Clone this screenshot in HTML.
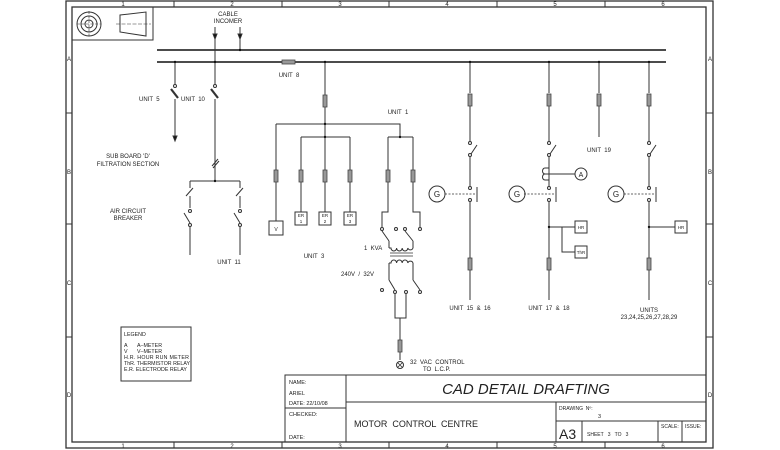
<!DOCTYPE html>
<html><head><meta charset="utf-8"><style>
html,body{margin:0;padding:0;background:#fff}
svg{display:block}
text{font-family:"Liberation Sans",sans-serif;fill:#222;white-space:pre}
</style></head><body>
<svg width="780" height="450" viewBox="0 0 780 450" xmlns="http://www.w3.org/2000/svg">
<defs>
<g id="fz"><rect x="-2" y="0" width="4" height="12" fill="#999" stroke="#444" stroke-width="0.8"/></g>
</defs>
<g fill="none" stroke="#333" stroke-width="1">
<rect x="66" y="1" width="647" height="447" stroke-width="1.3"/>
<rect x="72" y="7" width="634" height="435" stroke-width="1.3"/>
<path d="M174 1V7M282 1V7M389 1V7M497 1V7M605 1V7M174 442V448M282 442V448M389 442V448M497 442V448M605 442V448M66 113H72M66 224H72M66 337H72M706 113H713M706 224H713M706 337H713"/>
<rect x="72" y="7" width="81" height="33"/>
<circle cx="89" cy="24" r="12"/><circle cx="89" cy="24" r="8"/><circle cx="89" cy="24" r="4"/>
<path d="M77 24H101M89 11V37" stroke-dasharray="3 1.5" stroke-width="0.6"/>
<path d="M120 15L146 12V36L120 32Z"/>
<path d="M116 24H151" stroke-dasharray="4 1.5" stroke-width="0.6"/>
<path d="M157 50H666M157 62H666" stroke-width="1.6" stroke="#111"/>
<path d="M215 27V62M240 27V50"/>
<path d="M213 34L215 39L217 34ZM238 34L240 39L242 34Z" fill="#111"/>
<path d="M175 62V84M175 99V138"/>
<circle cx="175" cy="86" r="1.5"/>
<path d="M171 89L178 98" stroke-width="2.2"/>
<path d="M173 136L175 141L177 136Z" fill="#111"/>
<path d="M215 62V84M215 99V181"/>
<circle cx="215" cy="86" r="1.5"/>
<path d="M211 89L218 98" stroke-width="2.2"/>
<path d="M212 166L218 159M213 168L219 161" stroke-width="1"/>
<path d="M190 181H240M190 181V188M240 181V188M186 196L193 188M236 196L243 188M190 196V208M240 196V208"/>
<circle cx="190" cy="211" r="1.5"/><circle cx="240" cy="211" r="1.5"/>
<circle cx="190" cy="225" r="1.5"/><circle cx="240" cy="225" r="1.5"/>
<path d="M184 213L190 223M234 213L240 223M190 227V255M240 227V255"/>
<rect x="282" y="60" width="13" height="4" fill="#999" stroke="#444" stroke-width="0.8"/>
<path d="M325 62V95M325 107V137M276 124H400V137M301 137H350M388 137H413"/>
<path d="M276 124V170M276 182V221M301 137V170M301 182V212M325 137V170M325 182V212M350 137V170M350 182V212M388 137V170M388 182V212H382V227M413 137V170M413 182V212H420V227"/>
<rect x="269" y="221" width="14" height="14"/>
<rect x="295" y="212" width="12" height="13"/><rect x="319" y="212" width="12" height="13"/><rect x="344" y="212" width="12" height="13"/>
<circle cx="382" cy="229" r="1.5"/><circle cx="396" cy="229" r="1.5"/><circle cx="405" cy="229" r="1.5"/><circle cx="420" cy="229" r="1.5"/>
<path d="M382 231L389 241M405 231L413 241M389 241V248M413 241V248"/>
<path d="M389 248H391A2.8 3 0 0 0 396.6 248A2.8 3 0 0 0 402.2 248A2.8 3 0 0 0 407.8 248A2.8 3 0 0 0 413 248"/>
<path d="M390 253H413M390 256H413" stroke-width="0.8"/>
<path d="M389 263H391A2.8 3 0 0 1 396.6 263A2.8 3 0 0 1 402.2 263A2.8 3 0 0 1 407.8 263A2.8 3 0 0 1 413 263M389 263V280M413 263V280"/>
<path d="M389 280L395 290M413 280L420 290"/>
<circle cx="382" cy="290" r="1.5"/><circle cx="395" cy="292" r="1.5"/><circle cx="406" cy="292" r="1.5"/><circle cx="420" cy="292" r="1.5"/>
<path d="M395 294V318H406V294M400 318V340M400 352V360"/>
<circle cx="400" cy="365" r="3.5"/><path d="M397.5 362.5L402.5 367.5M402.5 362.5L397.5 367.5" stroke-width="0.8"/>
<path d="M470 62V93M470 106V141M470 157V186M470 202V258M470 270V300"/>
<path d="M549 62V93M549 106V141M549 157V186M549 202V258M549 270V300"/>
<path d="M599 62V93M599 106V137"/>
<path d="M649 62V93M649 106V141M649 157V186M649 202V258M649 270V300"/>
<circle cx="470" cy="143" r="1.5"/><circle cx="470" cy="155" r="1.5"/><path d="M471 154L477 145"/>
<circle cx="549" cy="143" r="1.5"/><circle cx="549" cy="155" r="1.5"/><path d="M550 154L556 145"/>
<circle cx="649" cy="143" r="1.5"/><circle cx="649" cy="155" r="1.5"/><path d="M650 154L656 145"/>
<circle cx="470" cy="188" r="1.5"/><circle cx="470" cy="200" r="1.5"/>
<circle cx="549" cy="188" r="1.5"/><circle cx="549" cy="200" r="1.5"/>
<circle cx="649" cy="188" r="1.5"/><circle cx="649" cy="200" r="1.5"/>
<path d="M477 187V202M556 187V202M656 187V202"/>
<path d="M445 194H477M524 194H556M624 194H656" stroke-dasharray="2 1.5" stroke-width="0.7"/>
<circle cx="437" cy="194" r="8"/><circle cx="517" cy="194" r="8"/><circle cx="616" cy="194" r="8"/>
<path d="M549 168H545A2.5 3 0 0 0 545 174H549M545 174A2.5 3 0 0 0 545 180H549M549 174H575"/>
<circle cx="581" cy="174" r="6"/>
<path d="M549 227H575M562 227V252H575M649 227H675"/>
<rect x="575" y="221" width="12" height="12"/><rect x="575" y="246" width="12" height="12"/><rect x="675" y="221" width="12" height="12"/>
<rect x="121" y="327" width="70" height="54"/>
<rect x="285" y="375" width="421" height="67"/>
<path d="M346 375V442M285 408H346M346 402H706M556 402V442M556 421H706M582 421V442M658 421V442M682 421V442"/>
</g>
<g fill="#111" stroke="none">
<circle cx="215" cy="62" r="1.2"/><circle cx="240" cy="50" r="1.2"/><circle cx="175" cy="62" r="1.2"/>
<circle cx="325" cy="62" r="1.2"/><circle cx="325" cy="124" r="1.2"/><circle cx="325" cy="137" r="1.2"/><circle cx="400" cy="137" r="1.2"/>
<circle cx="470" cy="62" r="1.2"/><circle cx="549" cy="62" r="1.2"/><circle cx="599" cy="62" r="1.2"/><circle cx="649" cy="62" r="1.2"/>
<circle cx="549" cy="227" r="1.2"/><circle cx="649" cy="227" r="1.2"/><circle cx="215" cy="181" r="1.2"/>
</g>
<use href="#fz" x="325" y="95"/>
<use href="#fz" x="276" y="170"/><use href="#fz" x="301" y="170"/><use href="#fz" x="325" y="170"/><use href="#fz" x="350" y="170"/>
<use href="#fz" x="388" y="170"/><use href="#fz" x="413" y="170"/><use href="#fz" x="400" y="340"/>
<use href="#fz" x="470" y="94"/><use href="#fz" x="549" y="94"/><use href="#fz" x="599" y="94"/><use href="#fz" x="649" y="94"/>
<use href="#fz" x="470" y="258"/><use href="#fz" x="549" y="258"/><use href="#fz" x="649" y="258"/>
<g font-size="6" text-anchor="middle">
<text x="123" y="6">1</text><text x="232" y="6">2</text><text x="340" y="6">3</text><text x="447" y="6">4</text><text x="555" y="6">5</text><text x="663" y="6">6</text>
<text x="123" y="448">1</text><text x="232" y="448">2</text><text x="340" y="448">3</text><text x="447" y="448">4</text><text x="555" y="448">5</text><text x="663" y="448">6</text>
<text x="69" y="61">A</text><text x="69" y="174">B</text><text x="69" y="285">C</text><text x="69" y="397">D</text>
<text x="710" y="61">A</text><text x="710" y="174">B</text><text x="710" y="285">C</text><text x="710" y="397">D</text>
<text x="228" y="16">CABLE</text><text x="228" y="23">INCOMER</text>
<text x="289" y="77">UNIT  8</text>
<text x="128" y="158">SUB BOARD 'D'</text><text x="128" y="166">FILTRATION SECTION</text>
<text x="128" y="213">AIR CIRCUIT</text><text x="128" y="220">BREAKER</text>
<text x="229" y="264">UNIT  11</text>
<text x="398" y="114">UNIT  1</text>
<text x="314" y="258">UNIT  3</text>
<text x="470" y="310">UNIT  15  &amp;  16</text><text x="549" y="310">UNIT  17  &amp;  18</text>
<text x="649" y="312">UNITS</text><text x="649" y="319">23,24,25,26,27,28,29</text>
<text x="599" y="152">UNIT  19</text>
<text x="437" y="197" font-size="8">G</text><text x="517" y="197" font-size="8">G</text><text x="616" y="197" font-size="8">G</text>
<text x="581" y="177" font-size="7">A</text>
<text x="276" y="231" font-size="5">V</text>
<text x="301" y="217" font-size="4.5">ER</text><text x="301" y="223" font-size="4.5">1</text>
<text x="325" y="217" font-size="4.5">ER</text><text x="325" y="223" font-size="4.5">2</text>
<text x="350" y="217" font-size="4.5">ER</text><text x="350" y="223" font-size="4.5">3</text>
<text x="581" y="229" font-size="4.5">HR</text><text x="581" y="254" font-size="4.5">ThR</text><text x="681" y="229" font-size="4.5">HR</text>
</g>
<g font-size="6">
<text x="139" y="101">UNIT  5</text><text x="181" y="101">UNIT  10</text>
<text x="364" y="250">1  KVA</text>
<text x="341" y="276">240V  /  32V</text>
<text x="410" y="364">32  VAC  CONTROL</text><text x="423" y="371">TO  L.C.P.</text>
<text x="124" y="336" font-size="5.3">LEGEND</text>
<text x="124" y="347" font-size="5.3">A</text><text x="137" y="347" font-size="5.3">A–METER</text>
<text x="124" y="353" font-size="5.3">V</text><text x="137" y="353" font-size="5.3">V–METER</text>
<text x="124" y="359" font-size="5.3" textLength="65">H.R. HOUR RUN METER</text>
<text x="124" y="365" font-size="5.3" textLength="66" lengthAdjust="spacingAndGlyphs">ThR. THERMISTOR RELAY</text>
<text x="124" y="371" font-size="5.3" textLength="63" lengthAdjust="spacingAndGlyphs">E.R. ELECTRODE RELAY</text>
<text x="289" y="384" font-size="5.5">NAME:</text>
<text x="289" y="395" font-size="5.5">ARIEL</text>
<text x="289" y="405" font-size="5.5">DATE: 22/10/08</text>
<text x="289" y="416" font-size="5.5">CHECKED:</text>
<text x="289" y="439" font-size="5.5">DATE:</text>
<text x="354" y="427" font-size="9">MOTOR  CONTROL  CENTRE</text>
<text x="559" y="410" font-size="5">DRAWING  Nº:</text>
<text x="598" y="418" font-size="5.5">3</text>
<text x="559" y="439" font-size="14">A3</text>
<text x="587" y="436" font-size="5">SHEET   3   TO   3</text>
<text x="661" y="428" font-size="5">SCALE:</text>
<text x="685" y="428" font-size="5">ISSUE:</text>
<text x="526" y="394" font-size="15" font-style="italic" text-anchor="middle">CAD DETAIL DRAFTING</text>
</g>
</svg>
</body></html>
